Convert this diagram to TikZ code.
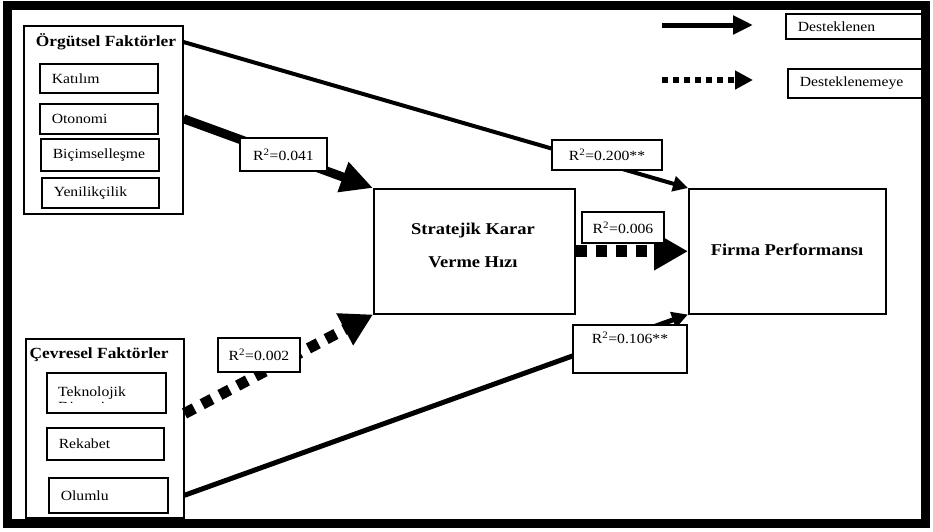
\documentclass[tikz,border=0pt]{standalone}
\usepackage{fontspec}
\setmainfont[FakeStretch=1.12]{Liberation Serif}
\usepackage{tikz}
\usetikzlibrary{arrows.meta,positioning}

\tikzset{
  groupbox/.style={draw, line width=1.5pt, anchor=north west, inner sep=0pt},
  grouptitle/.style={font=\bfseries\fontsize{15.5}{18}\selectfont, inner sep=0pt},
  itembox/.style={draw, line width=1.5pt, anchor=north west, inner xsep=12pt,
    inner ysep=0pt, align=left, font=\fontsize{14}{16}\selectfont},
  mainbox/.style={draw, line width=1.5pt, anchor=north west, inner sep=0pt},
  maintext/.style={align=center, inner sep=0pt,
    font=\bfseries\fontsize{16.5}{20}\selectfont},
  rlabel/.style={draw, line width=1.5pt, fill=white, inner sep=0pt,
    font=\fontsize{14}{16}\selectfont},
  legbox/.style={draw, line width=1.5pt, anchor=north west, inner xsep=12pt,
    inner ysep=0pt, align=left, font=\fontsize{14}{16}\selectfont},
  dotline/.style={dash pattern=on 11pt off 9pt}
}

\begin{document}
\begin{tikzpicture}[x=1pt, y=-1pt]
    \useasboundingbox (0,0) rectangle (933,531);

    % Groups
    \node[groupbox, minimum width=159pt, minimum height=188pt] (org) at (23,25) {};
    \node[grouptitle] (orgt) at (106,42) {Örgütsel Faktörler};
    \node[itembox, text width=94pt, minimum height=29pt] (kat) at (39,63) {Katılım};
    \node[itembox, text width=94pt, minimum height=30pt] (oto) at (39,103) {Otonomi};
    \node[itembox, text width=94pt, minimum height=32pt] (bic) at (40,138) {Biçimselleşme};
    \node[itembox, text width=93pt, minimum height=30pt] (yen) at (41,177) {Yenilikçilik};

    \node[groupbox, minimum width=158pt, minimum height=179pt] (cev) at (25,338) {};
    \node[grouptitle] (cevt) at (99,355) {Çevresel Faktörler};
    \node[itembox, text width=95pt, minimum height=40pt] (tek) at (46,372) {};
    \begin{scope}
      \clip (tek.north west) rectangle (tek.east |- 0,402);
      \node[anchor=north west, align=left, inner sep=0pt,
            font=\fontsize{14}{15}\selectfont] (tekt) at (58,387) {Teknolojik\\Dinamizm};
    \end{scope}
    \node[itembox, text width=93pt, minimum height=32pt] (rek) at (46,427) {Rekabet};
    \node[itembox, text width=95pt, minimum height=35pt] (olu) at (48,477) {Olumlu};

    % Main boxes
    \node[mainbox, minimum width=201pt, minimum height=125pt] (skv) at (373,188) {};
    \node[maintext] (skvt) at (473,245) {Stratejik Karar\\[13pt]Verme Hızı};
    \node[mainbox, minimum width=197pt, minimum height=125pt] (fp) at (688,188) {};
    \node[maintext] (fpt) at (787,250) {Firma Performansı};

    % Paths
    \draw[line width=4pt, -{Triangle[length=15pt,width=15pt]}]
        (org.east |- orgt) -- (fp.north west);
    \draw[line width=9pt, -{Triangle[length=32pt,width=30pt]}]
        (org.east |- oto) -- (skv.north west);
    \draw[line width=11pt, dotline, -{Triangle[length=32pt,width=34pt]}]
        (cev.east |- tek.south) -- (skv.south west);
    \draw[line width=12pt, dotline, -{Triangle[length=34pt,width=36pt]}]
        (skv.east) -- (fp.west);
    \draw[line width=5pt, -{Triangle[length=16pt,width=16pt]}]
        (cev.east |- olu) -- (fp.south west);

    % R2 labels
    \node[rlabel, minimum width=87pt, minimum height=33pt] (r041) at (283.5,154.5) {R\textsuperscript{2}=0.041};
    \node[rlabel, minimum width=110pt, minimum height=30pt] (r200) at (607,155) {R\textsuperscript{2}=0.200**};
    \node[rlabel, minimum width=82pt, minimum height=31pt] (r006) at (623,227.5) {R\textsuperscript{2}=0.006};
    \node[rlabel, minimum width=82pt, minimum height=34pt] (r002) at (259,355) {R\textsuperscript{2}=0.002};
    \node[rlabel, minimum width=114pt, minimum height=48pt, text depth=22pt] (r106) at (630,349) {R\textsuperscript{2}=0.106**};

    % Legend
    \coordinate (la) at (662,25);
    \coordinate (lb) at (753,25);
    \coordinate (lc) at (662,80);
    \coordinate (ld) at (753,80);
    \draw[line width=5pt, -{Triangle[length=20pt,width=18pt]}] (la) -- (lb);
    \draw[line width=6pt, dash pattern=on 6pt off 5pt, -{Triangle[length=18pt,width=18pt]}] (lc) -- (ld);
    \node[legbox, text width=112pt, minimum height=25pt] (des) at (785,13) {Desteklenen};
    \node[legbox, text width=110pt, minimum height=29pt] (deg) at (787,68) {Desteklenemeye};

    % Frame
    \draw[line width=9pt] (7.5,5) rectangle (925,523);
\end{tikzpicture}
\end{document}
